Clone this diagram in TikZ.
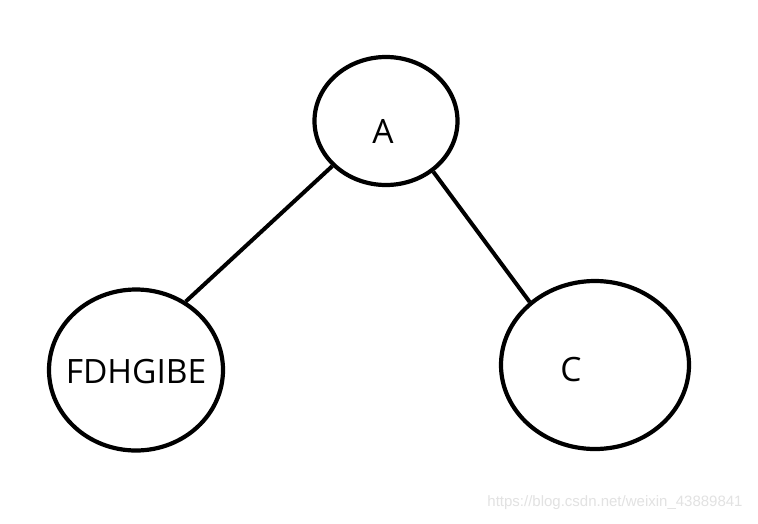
\documentclass[tikz,border=0pt]{standalone}
\usepackage{fontspec}
\setmainfont{Open Sans}
\newfontfamily\wmfont{Liberation Sans}
\usetikzlibrary{shapes.geometric}
\begin{document}
\begin{tikzpicture}[x=1pt,y=-1pt,
  oval/.style={ellipse,draw=black,line width=4.2pt,inner sep=0pt},
  lbl/.style={font=\fontsize{33.5}{38}\selectfont,text=black,inner sep=0pt},
  edgeline/.style={draw=black,line width=4pt}]
\useasboundingbox[fill=white] (0,0) rectangle (758,523);
\node[oval,minimum width=143pt,minimum height=128pt] (A) at (386,121) {};
\node[oval,minimum width=174pt,minimum height=161pt] (F) at (136,370) {};
\node[oval,minimum width=188pt,minimum height=168pt] (C) at (595,365) {};
\node[lbl] (Atext) at (383,131) {A};
\node[lbl] (Ftext) at (136,372) {FDHGIBE};
\node[lbl] (Ctext) at (571,370) {C};
\draw[edgeline] (A.220) -- (F.54);
\draw[edgeline] (A.-47) -- (C.136);
\node[font=\wmfont\fontsize{15}{18}\selectfont,text={rgb,255:red,226;green,226;blue,226},inner sep=0pt] (wm) at (615,503) {https://blog.csdn.net/weixin\_43889841};
\end{tikzpicture}
\end{document}
